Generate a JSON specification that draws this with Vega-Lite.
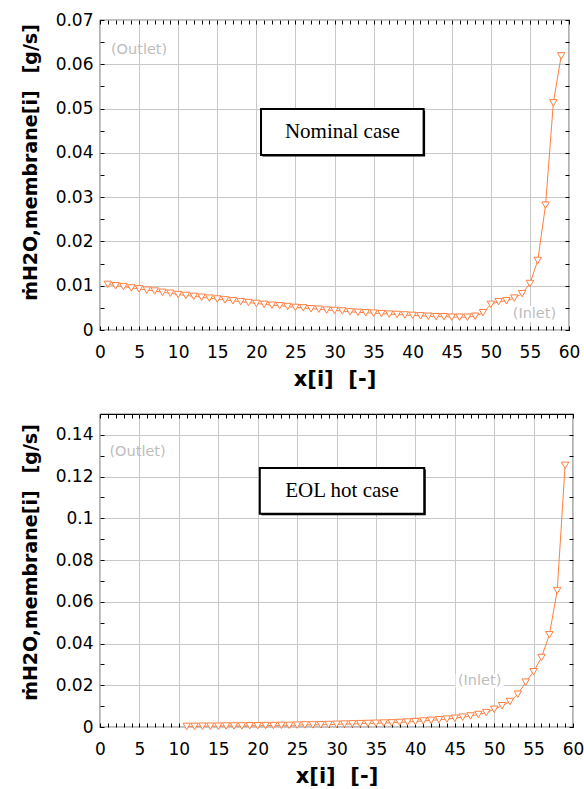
{
  "$schema": "https://vega.github.io/schema/vega-lite/v6.json",
  "padding": {"left": 20, "top": 10, "right": 2, "bottom": 2},
  "autosize": {"type": "pad"},
  "spacing": 22,
  "config": {
    "view": {"stroke": "#000", "strokeWidth": 1.2},
    "axis": {
      "labelFont": "DejaVu Sans", "labelFontSize": 17, "labelColor": "#000",
      "ticks": true, "tickColor": "#000", "tickWidth": 1, "tickSize": -4, "tickOpacity": 1,
      "gridColor": "#c8c8c8", "gridWidth": 1, "domain": false,
      "titleFont": "DejaVu Sans", "titleFontWeight": "bold", "titleColor": "#000",
      "labelOverlap": false, "labelFlush": false
    }
  },
  "datasets": {
    "nominal": [
      {"i":1,"m":0.0103},{"i":2,"m":0.0100},{"i":3,"m":0.0098},{"i":4,"m":0.0095},{"i":5,"m":0.0093},
      {"i":6,"m":0.0090},{"i":7,"m":0.0088},{"i":8,"m":0.0085},{"i":9,"m":0.0083},{"i":10,"m":0.0080},
      {"i":11,"m":0.0078},{"i":12,"m":0.0076},{"i":13,"m":0.0074},{"i":14,"m":0.0072},{"i":15,"m":0.0070},
      {"i":16,"m":0.0068},{"i":17,"m":0.0066},{"i":18,"m":0.0064},{"i":19,"m":0.0062},{"i":20,"m":0.0060},
      {"i":21,"m":0.0058},{"i":22,"m":0.0056},{"i":23,"m":0.0055},{"i":24,"m":0.0053},{"i":25,"m":0.0051},
      {"i":26,"m":0.0050},{"i":27,"m":0.0048},{"i":28,"m":0.0047},{"i":29,"m":0.0045},{"i":30,"m":0.0044},
      {"i":31,"m":0.0043},{"i":32,"m":0.0041},{"i":33,"m":0.0040},{"i":34,"m":0.0039},{"i":35,"m":0.0038},
      {"i":36,"m":0.0037},{"i":37,"m":0.0036},{"i":38,"m":0.0035},{"i":39,"m":0.0034},{"i":40,"m":0.0033},
      {"i":41,"m":0.0032},{"i":42,"m":0.0031},{"i":43,"m":0.0030},{"i":44,"m":0.0030},{"i":45,"m":0.0029},
      {"i":46,"m":0.0029},{"i":47,"m":0.0029},{"i":48,"m":0.0031},{"i":49,"m":0.0039},{"i":50,"m":0.0058},
      {"i":51,"m":0.0064},{"i":52,"m":0.0066},{"i":53,"m":0.0072},{"i":54,"m":0.0082},{"i":55,"m":0.0105},
      {"i":56,"m":0.0157},{"i":57,"m":0.0282},{"i":58,"m":0.0513},{"i":59,"m":0.0619}
    ],
    "eol": [
      {"i":11,"m":0.0003},{"i":12,"m":0.0003},{"i":13,"m":0.0004},{"i":14,"m":0.0004},{"i":15,"m":0.0004},
      {"i":16,"m":0.0005},{"i":17,"m":0.0005},{"i":18,"m":0.0005},{"i":19,"m":0.0006},{"i":20,"m":0.0006},
      {"i":21,"m":0.0007},{"i":22,"m":0.0007},{"i":23,"m":0.0008},{"i":24,"m":0.0008},{"i":25,"m":0.0009},
      {"i":26,"m":0.0010},{"i":27,"m":0.0010},{"i":28,"m":0.0011},{"i":29,"m":0.0012},{"i":30,"m":0.0013},
      {"i":31,"m":0.0014},{"i":32,"m":0.0015},{"i":33,"m":0.0016},{"i":34,"m":0.0017},{"i":35,"m":0.0018},
      {"i":36,"m":0.0019},{"i":37,"m":0.0020},{"i":38,"m":0.0022},{"i":39,"m":0.0024},{"i":40,"m":0.0026},
      {"i":41,"m":0.0029},{"i":42,"m":0.0032},{"i":43,"m":0.0035},{"i":44,"m":0.0038},{"i":45,"m":0.0042},
      {"i":46,"m":0.0047},{"i":47,"m":0.0053},{"i":48,"m":0.0060},{"i":49,"m":0.0069},{"i":50,"m":0.0085},
      {"i":51,"m":0.0102},{"i":52,"m":0.0122},{"i":53,"m":0.0157},{"i":54,"m":0.0215},{"i":55,"m":0.0265},
      {"i":56,"m":0.0333},{"i":57,"m":0.0442},{"i":58,"m":0.0654},{"i":59,"m":0.1254}
    ],
    "topBox": [{"x":20.6,"x2":41.4,"y":0.0395,"y2":0.0499}],
    "topBoxText": [{"x":31.0,"y":0.0447,"label":"Nominal case"}],
    "topBg": [{"x":52.5,"x2":58.6,"y":0.0018,"y2":0.0054}],
    "topNotes": [{"x":1.4,"y":0.0632,"label":"(Outlet)"},{"x":52.8,"y":0.0036,"label":"(Inlet)"}],
    "botBox": [{"x":20.27,"x2":41.13,"y":0.1022,"y2":0.1241}],
    "botBoxText": [{"x":30.7,"y":0.1131,"label":"EOL hot case"}],
    "botBg": [{"x":45.1,"x2":51.2,"y":0.0185,"y2":0.0255}],
    "botNotes": [{"x":1.2,"y":0.132,"label":"(Outlet)"},{"x":45.4,"y":0.022,"label":"(Inlet)"}]
  },
  "vconcat": [
    {
      "width": 469, "height": 310,
      "resolve": {"axis": {"x": "independent", "y": "independent"}},
      "layer": [
        {
          "data": {"name": "topBg"},
          "mark": {"type": "rect", "fill": "white"},
          "encoding": {
            "x": {"field": "x", "type": "quantitative", "scale": {"domain": [0, 60], "nice": false}, "axis": null},
            "x2": {"field": "x2"},
            "y": {"field": "y", "type": "quantitative", "scale": {"domain": [0, 0.07], "nice": false}, "axis": null},
            "y2": {"field": "y2"}
          }
        },
        {
          "data": {"name": "nominal"},
          "mark": {"type": "line", "color": "#ff7f40", "strokeWidth": 1},
          "encoding": {
            "x": {"field": "i", "type": "quantitative", "scale": {"domain": [0, 60], "nice": false},
              "axis": {"orient": "bottom", "grid": true,
                "values": [0,1,2,3,4,5,6,7,8,9,10,11,12,13,14,15,16,17,18,19,20,21,22,23,24,25,26,27,28,29,30,31,32,33,34,35,36,37,38,39,40,41,42,43,44,45,46,47,48,49,50,51,52,53,54,55,56,57,58,59,60],
                "labelExpr": "datum.value % 5 === 0 ? format(datum.value, 'd') : ''",
                "gridOpacity": {"condition": {"test": "datum.value % 5 === 0", "value": 1}, "value": 0},
                "labelPadding": 18, "title": "x[i]\u00a0\u00a0[-]", "titleFontSize": 21, "titlePadding": 8}},
            "y": {"field": "m", "type": "quantitative", "scale": {"domain": [0, 0.07], "nice": false},
              "axis": {"orient": "left", "grid": true,
                "values": [0,0.005,0.01,0.015,0.02,0.025,0.03,0.035,0.04,0.045,0.05,0.055,0.06,0.065,0.07],
                "labelExpr": "round(datum.value*1000) % 10 === 0 ? format(datum.value, '~g') : ''",
                "gridOpacity": {"condition": {"test": "round(datum.value*1000) % 10 === 0", "value": 1}, "value": 0},
                "labelPadding": 11, "title": "ṁH2O,membrane[i]\u00a0\u00a0\u2009[g/s]", "titleFontSize": 19, "titlePadding": 15, "titleY": 142}}
          }
        },
        {
          "data": {"name": "nominal"},
          "mark": {"type": "point", "shape": "triangle-down", "filled": true, "fill": "white", "stroke": "#ff7f40", "strokeWidth": 1, "size": 55, "opacity": 1},
          "encoding": {
            "x": {"field": "i", "type": "quantitative", "scale": {"domain": [0, 60], "nice": false}, "axis": null},
            "y": {"field": "m", "type": "quantitative", "scale": {"domain": [0, 0.07], "nice": false}, "axis": null}
          }
        },
        {
          "data": {"name": "topBox"},
          "mark": {"type": "rect", "fill": "black", "xOffset": 1.5, "x2Offset": 1.5, "yOffset": 1.5, "y2Offset": 1.5},
          "encoding": {
            "x": {"field": "x", "type": "quantitative", "scale": {"domain": [0, 60], "nice": false}, "axis": null},
            "x2": {"field": "x2"},
            "y": {"field": "y", "type": "quantitative", "scale": {"domain": [0, 0.07], "nice": false}, "axis": null},
            "y2": {"field": "y2"}
          }
        },
        {
          "data": {"name": "topBox"},
          "mark": {"type": "rect", "fill": "white", "stroke": "black", "strokeWidth": 2},
          "encoding": {
            "x": {"field": "x", "type": "quantitative", "scale": {"domain": [0, 60], "nice": false},
              "axis": {"orient": "top", "values": [0,1,2,3,4,5,6,7,8,9,10,11,12,13,14,15,16,17,18,19,20,21,22,23,24,25,26,27,28,29,30,31,32,33,34,35,36,37,38,39,40,41,42,43,44,45,46,47,48,49,50,51,52,53,54,55,56,57,58,59,60],
                "labels": false, "grid": false, "title": null}},
            "x2": {"field": "x2"},
            "y": {"field": "y", "type": "quantitative", "scale": {"domain": [0, 0.07], "nice": false},
              "axis": {"orient": "right", "values": [0,0.005,0.01,0.015,0.02,0.025,0.03,0.035,0.04,0.045,0.05,0.055,0.06,0.065,0.07],
                "labels": false, "grid": false, "title": null}},
            "y2": {"field": "y2"}
          }
        },
        {
          "data": {"name": "topBoxText"},
          "mark": {"type": "text", "font": "Liberation Serif", "fontSize": 21, "color": "black", "align": "center", "baseline": "middle"},
          "encoding": {
            "x": {"field": "x", "type": "quantitative", "scale": {"domain": [0, 60], "nice": false}, "axis": null},
            "y": {"field": "y", "type": "quantitative", "scale": {"domain": [0, 0.07], "nice": false}, "axis": null},
            "text": {"field": "label"}
          }
        },
        {
          "data": {"name": "topNotes"},
          "mark": {"type": "text", "font": "DejaVu Sans", "fontSize": 14.5, "color": "#bdbdbd", "align": "left", "baseline": "middle"},
          "encoding": {
            "x": {"field": "x", "type": "quantitative", "scale": {"domain": [0, 60], "nice": false}, "axis": null},
            "y": {"field": "y", "type": "quantitative", "scale": {"domain": [0, 0.07], "nice": false}, "axis": null},
            "text": {"field": "label"}
          }
        }
      ]
    },
    {
      "width": 473, "height": 313,
      "resolve": {"axis": {"x": "independent", "y": "independent"}},
      "layer": [
        {
          "data": {"name": "botBg"},
          "mark": {"type": "rect", "fill": "white"},
          "encoding": {
            "x": {"field": "x", "type": "quantitative", "scale": {"domain": [0, 60], "nice": false}, "axis": null},
            "x2": {"field": "x2"},
            "y": {"field": "y", "type": "quantitative", "scale": {"domain": [0, 0.15], "nice": false}, "axis": null},
            "y2": {"field": "y2"}
          }
        },
        {
          "data": {"name": "eol"},
          "mark": {"type": "line", "color": "#ff7f40", "strokeWidth": 1},
          "encoding": {
            "x": {"field": "i", "type": "quantitative", "scale": {"domain": [0, 60], "nice": false},
              "axis": {"orient": "bottom", "grid": true,
                "values": [0,1,2,3,4,5,6,7,8,9,10,11,12,13,14,15,16,17,18,19,20,21,22,23,24,25,26,27,28,29,30,31,32,33,34,35,36,37,38,39,40,41,42,43,44,45,46,47,48,49,50,51,52,53,54,55,56,57,58,59,60],
                "labelExpr": "datum.value % 5 === 0 ? format(datum.value, 'd') : ''",
                "gridOpacity": {"condition": {"test": "datum.value % 5 === 0", "value": 1}, "value": 0},
                "labelPadding": 18, "title": "x[i]\u00a0\u00a0[-]", "titleFontSize": 21, "titlePadding": 8}},
            "y": {"field": "m", "type": "quantitative", "scale": {"domain": [0, 0.15], "nice": false},
              "axis": {"orient": "left", "grid": true,
                "values": [0,0.01,0.02,0.03,0.04,0.05,0.06,0.07,0.08,0.09,0.1,0.11,0.12,0.13,0.14],
                "labelExpr": "round(datum.value*100) % 2 === 0 ? format(datum.value, '~g') : ''",
                "gridOpacity": {"condition": {"test": "round(datum.value*100) % 2 === 0", "value": 1}, "value": 0},
                "labelPadding": 11, "title": "ṁH2O,membrane[i]\u00a0\u00a0\u2009[g/s]", "titleFontSize": 19, "titlePadding": 15, "titleY": 148}}
          }
        },
        {
          "data": {"name": "eol"},
          "mark": {"type": "point", "shape": "triangle-down", "filled": true, "fill": "white", "stroke": "#ff7f40", "strokeWidth": 1, "size": 55, "opacity": 1},
          "encoding": {
            "x": {"field": "i", "type": "quantitative", "scale": {"domain": [0, 60], "nice": false}, "axis": null},
            "y": {"field": "m", "type": "quantitative", "scale": {"domain": [0, 0.15], "nice": false}, "axis": null}
          }
        },
        {
          "data": {"name": "botBox"},
          "mark": {"type": "rect", "fill": "black", "xOffset": 1.5, "x2Offset": 1.5, "yOffset": 1.5, "y2Offset": 1.5},
          "encoding": {
            "x": {"field": "x", "type": "quantitative", "scale": {"domain": [0, 60], "nice": false}, "axis": null},
            "x2": {"field": "x2"},
            "y": {"field": "y", "type": "quantitative", "scale": {"domain": [0, 0.15], "nice": false}, "axis": null},
            "y2": {"field": "y2"}
          }
        },
        {
          "data": {"name": "botBox"},
          "mark": {"type": "rect", "fill": "white", "stroke": "black", "strokeWidth": 2},
          "encoding": {
            "x": {"field": "x", "type": "quantitative", "scale": {"domain": [0, 60], "nice": false},
              "axis": {"orient": "top", "values": [0,1,2,3,4,5,6,7,8,9,10,11,12,13,14,15,16,17,18,19,20,21,22,23,24,25,26,27,28,29,30,31,32,33,34,35,36,37,38,39,40,41,42,43,44,45,46,47,48,49,50,51,52,53,54,55,56,57,58,59,60],
                "labels": false, "grid": false, "title": null}},
            "x2": {"field": "x2"},
            "y": {"field": "y", "type": "quantitative", "scale": {"domain": [0, 0.15], "nice": false},
              "axis": {"orient": "right", "values": [0,0.01,0.02,0.03,0.04,0.05,0.06,0.07,0.08,0.09,0.1,0.11,0.12,0.13,0.14,0.15],
                "labels": false, "grid": false, "title": null}},
            "y2": {"field": "y2"}
          }
        },
        {
          "data": {"name": "botBoxText"},
          "mark": {"type": "text", "font": "Liberation Serif", "fontSize": 21, "color": "black", "align": "center", "baseline": "middle"},
          "encoding": {
            "x": {"field": "x", "type": "quantitative", "scale": {"domain": [0, 60], "nice": false}, "axis": null},
            "y": {"field": "y", "type": "quantitative", "scale": {"domain": [0, 0.15], "nice": false}, "axis": null},
            "text": {"field": "label"}
          }
        },
        {
          "data": {"name": "botNotes"},
          "mark": {"type": "text", "font": "DejaVu Sans", "fontSize": 14.5, "color": "#bdbdbd", "align": "left", "baseline": "middle"},
          "encoding": {
            "x": {"field": "x", "type": "quantitative", "scale": {"domain": [0, 60], "nice": false}, "axis": null},
            "y": {"field": "y", "type": "quantitative", "scale": {"domain": [0, 0.15], "nice": false}, "axis": null},
            "text": {"field": "label"}
          }
        }
      ]
    }
  ]
}
